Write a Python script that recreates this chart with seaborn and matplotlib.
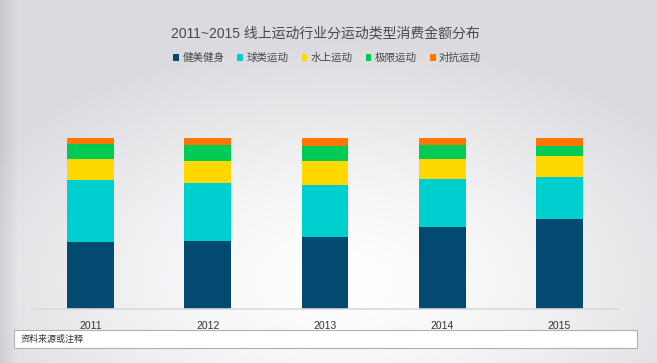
import numpy as np
import pandas as pd
import seaborn as sns
import matplotlib.pyplot as plt
from matplotlib.patches import Patch, Rectangle

# ---------------------------------------------------------
# data (share of spending, %)
# ---------------------------------------------------------
years = ["2011", "2012", "2013", "2014", "2015"]
categories = ["健美健身", "球类运动", "水上运动", "极限运动", "对抗运动"]
fitness = [39.1, 39.7, 42.1, 47.9, 52.3]
ball = [36.2, 34.1, 30.0, 28.2, 24.5]
water = [12.5, 12.9, 14.3, 11.4, 12.6]
extreme = [8.5, 9.0, 8.6, 8.2, 5.6]
combat = [3.7, 4.3, 5.0, 4.3, 5.0]

colors = ["#034a70", "#00cfcf", "#ffd800", "#00cc55", "#ff7700"]

series = [fitness, ball, water, extreme, combat]
df = pd.DataFrame(
    [(y, c, v[i]) for c, v in zip(categories, series) for i, y in enumerate(years)],
    columns=["year", "type", "share"],
)
df["type"] = pd.Categorical(df["type"], categories=categories, ordered=True)
df = df.sort_values(["year", "type"])
df["top"] = df.groupby("year")["share"].cumsum()

# ---------------------------------------------------------
# figure + gradient background
# ---------------------------------------------------------
sns.set_theme(style="white")
plt.rcParams["font.family"] = ["Liberation Sans", "Noto Sans CJK SC", "DejaVu Sans"]

W, H = 657, 363
fig = plt.figure(figsize=(W / 100, H / 100), dpi=100)

yy, xx = np.mgrid[0:H, 0:W]
t = np.sqrt(((xx - 340) / 420.0) ** 2 + ((yy - 280) / 240.0) ** 2)
t = np.clip(t, 0, 1) ** 1.4
light = np.array([1.0, 1.0, 1.0])
gray = np.array([0.855, 0.855, 0.875])
bg = light * (1 - t[..., None]) + gray * t[..., None]
edge = np.clip(1 - xx / 18.0, 0, 1)[..., None] * 0.07
bg = np.clip(bg - edge, 0, 1)
bg_ax = fig.add_axes([0, 0, 1, 1], zorder=-10)
bg_ax.imshow(bg, aspect="auto", extent=[0, W, H, 0])
bg_ax.axis("off")

# ---------------------------------------------------------
# stacked bars (draw cumulative tops from highest to lowest)
# ---------------------------------------------------------
ax = fig.add_axes([32 / W, (H - 308.5) / H, 586 / W, 170.7 / H])
ax.patch.set_alpha(0)
for cat, col in reversed(list(zip(categories, colors))):
    sub = df[df["type"] == cat]
    sns.barplot(data=sub, x="year", y="top", order=years, color=col,
                width=0.4, saturation=1, errorbar=None, ax=ax, zorder=2,
                edgecolor="none", linewidth=0)

ax.set_xlim(-0.5, 4.5)
ax.set_ylim(0, 100)
ax.set_xlabel("")
ax.set_ylabel("")
ax.set_yticks([])
for s in ["top", "right", "left"]:
    ax.spines[s].set_visible(False)
ax.spines["bottom"].set_color("#dadada")
ax.spines["bottom"].set_linewidth(1.2)
ax.tick_params(axis="x", length=0, pad=9, labelsize=7.5, labelcolor="#333333")

# ---------------------------------------------------------
# title, legend, footnote
# ---------------------------------------------------------
fig.text(325 / W, 1 - 33 / H, "2011~2015 线上运动行业分运动类型消费金额分布",
         ha="center", va="center", fontsize=10, color="#4a4a4a")

handles = [Patch(facecolor=c, edgecolor="none", label=l) for l, c in zip(categories, colors)]
fig.legend(handles=handles, loc="center", bbox_to_anchor=(327 / W, 1 - 58 / H),
           ncol=5, frameon=False, fontsize=7.6, handlelength=0.55, handleheight=0.55,
           handletextpad=0.3, columnspacing=1.25, labelcolor="#444444")

fig.patches.append(Rectangle((14.3 / W, 1 - 348.3 / H), 622.4 / W, 18 / H,
                             transform=fig.transFigure, facecolor="white",
                             edgecolor="#b0b0b0", linewidth=0.8))
fig.text(21 / W, 1 - 339.5 / H, "资料来源或注释", ha="left", va="center",
         fontsize=6.5, color="#333333")

fig.savefig("out.png", dpi=100)
